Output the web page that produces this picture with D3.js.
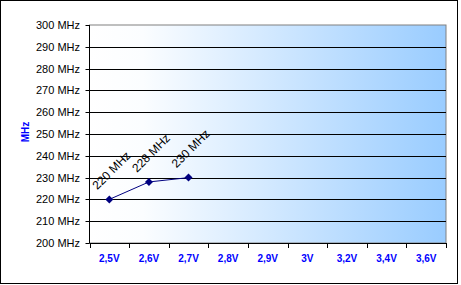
<!DOCTYPE html>
<html>
<head>
<meta charset="utf-8">
<script src="https://cdn.jsdelivr.net/npm/d3@7"></script>
<style>
body { margin: 0; background: #fff; }
svg { display: block; font-family: "Liberation Sans", Arial, sans-serif; }
.ytick text { font-size: 11px; fill: #000; }
.xtick text { font-size: 10px; font-weight: bold; fill: #0000ff; }
.datalabel { font-size: 12px; fill: #000; }
</style>
</head>
<body>
<svg id="chartsvg"></svg>
<script>
// voltages along the x axis
var categories = ["2,5V", "2,6V", "2,7V", "2,8V", "2,9V", "3V", "3,2V", "3,4V", "3,6V"];
// measured clock, only the first three voltages have a value
var clockVolts = ["2,5V", "2,6V", "2,7V"];
var clockMHz = [220, 228, 230];
var yTicks = [200, 210, 220, 230, 240, 250, 260, 270, 280, 290, 300];

var W = 461, H = 285;
var plot = {left: 89.5, right: 446, top: 25, bottom: 243};

var svg = d3.select("#chartsvg").attr("width", W).attr("height", H);

// gradient fill of the plot area
var grad = svg.append("defs").append("linearGradient")
	.attr("id", "bg").attr("x1", "0").attr("x2", "1").attr("y1", "0").attr("y2", "0");
grad.append("stop").attr("offset", "0").attr("stop-color", "#ffffff");
grad.append("stop").attr("offset", "0.15").attr("stop-color", "#fbfdff");
grad.append("stop").attr("offset", "1").attr("stop-color", "#99ccff");

// outer frame
svg.append("rect").attr("x", 0.5).attr("y", 0.5).attr("width", 457).attr("height", 283)
	.attr("fill", "#fff").attr("stroke", "#000");

var x = d3.scaleBand().domain(categories).range([plot.left, plot.right]).padding(0);
var y = d3.scaleLinear().domain([200, 300]).range([plot.bottom, plot.top]);

svg.append("rect")
	.attr("x", plot.left).attr("y", plot.top)
	.attr("width", plot.right - plot.left).attr("height", plot.bottom - plot.top)
	.attr("fill", "url(#bg)").attr("stroke", "#808080");

// gridlines
svg.append("g").selectAll("line").data(yTicks.slice(1, -1)).join("line")
	.attr("x1", plot.left).attr("x2", plot.right)
	.attr("y1", function(d) { return Math.round(y(d)) + 0.5; })
	.attr("y2", function(d) { return Math.round(y(d)) + 0.5; })
	.attr("stroke", "#000");

// y axis
var yAxis = svg.append("g").attr("class", "ytick");
yAxis.append("line").attr("x1", plot.left).attr("x2", plot.left)
	.attr("y1", plot.top).attr("y2", plot.bottom).attr("stroke", "#000");
var yt = yAxis.selectAll("g").data(yTicks).join("g")
	.attr("transform", function(d) { return "translate(0," + (Math.round(y(d)) + 0.5) + ")"; });
yt.append("line").attr("x1", plot.left - 4).attr("x2", plot.left).attr("stroke", "#000");
yt.append("text").attr("x", 80).attr("dy", "0.36em").attr("text-anchor", "end")
	.text(function(d) { return d + " MHz"; });

// x axis
var xAxis = svg.append("g").attr("class", "xtick");
xAxis.append("line").attr("x1", plot.left).attr("x2", plot.right)
	.attr("y1", plot.bottom + 0.5).attr("y2", plot.bottom + 0.5).attr("stroke", "#000");
var bounds = categories.map(function(c) { return x(c); }).concat([plot.right]);
xAxis.selectAll("line.tk").data(bounds).join("line").attr("class", "tk")
	.attr("x1", function(d) { return Math.round(d) + 0.5; })
	.attr("x2", function(d) { return Math.round(d) + 0.5; })
	.attr("y1", plot.bottom).attr("y2", plot.bottom + 5).attr("stroke", "#000");
xAxis.selectAll("text").data(categories).join("text")
	.attr("x", function(d) { return x(d) + x.bandwidth() / 2; })
	.attr("y", 262).attr("text-anchor", "middle")
	.text(function(d) { return d; });

// y axis title
svg.append("text")
	.attr("transform", "translate(29,132)rotate(-90)")
	.attr("text-anchor", "middle")
	.style("font-size", "10px").style("font-weight", "bold").style("fill", "#0000ff")
	.text("MHz");

// series
var pts = clockVolts.map(function(v, i) {
	return {x: x(v) + x.bandwidth() / 2, y: y(clockMHz[i]), v: clockMHz[i]};
});
svg.append("path").datum(pts)
	.attr("d", d3.line().x(function(d) { return d.x; }).y(function(d) { return d.y; }))
	.attr("fill", "none").attr("stroke", "#000080").attr("stroke-width", 1);
svg.append("g").selectAll("path").data(pts).join("path")
	.attr("d", "M0,-4L4,0L0,4L-4,0Z")
	.attr("transform", function(d) { return "translate(" + d.x + "," + d.y + ")"; })
	.attr("fill", "#000080");

svg.append("g").selectAll("text").data(pts).join("text")
	.attr("class", "datalabel")
	.attr("transform", function(d) { return "translate(" + (d.x + 2) + "," + (d.y - 29) + ")rotate(-45)"; })
	.attr("text-anchor", "middle").attr("dy", "0.35em")
	.text(function(d) { return d.v + " MHz"; });
</script>
</body>
</html>
